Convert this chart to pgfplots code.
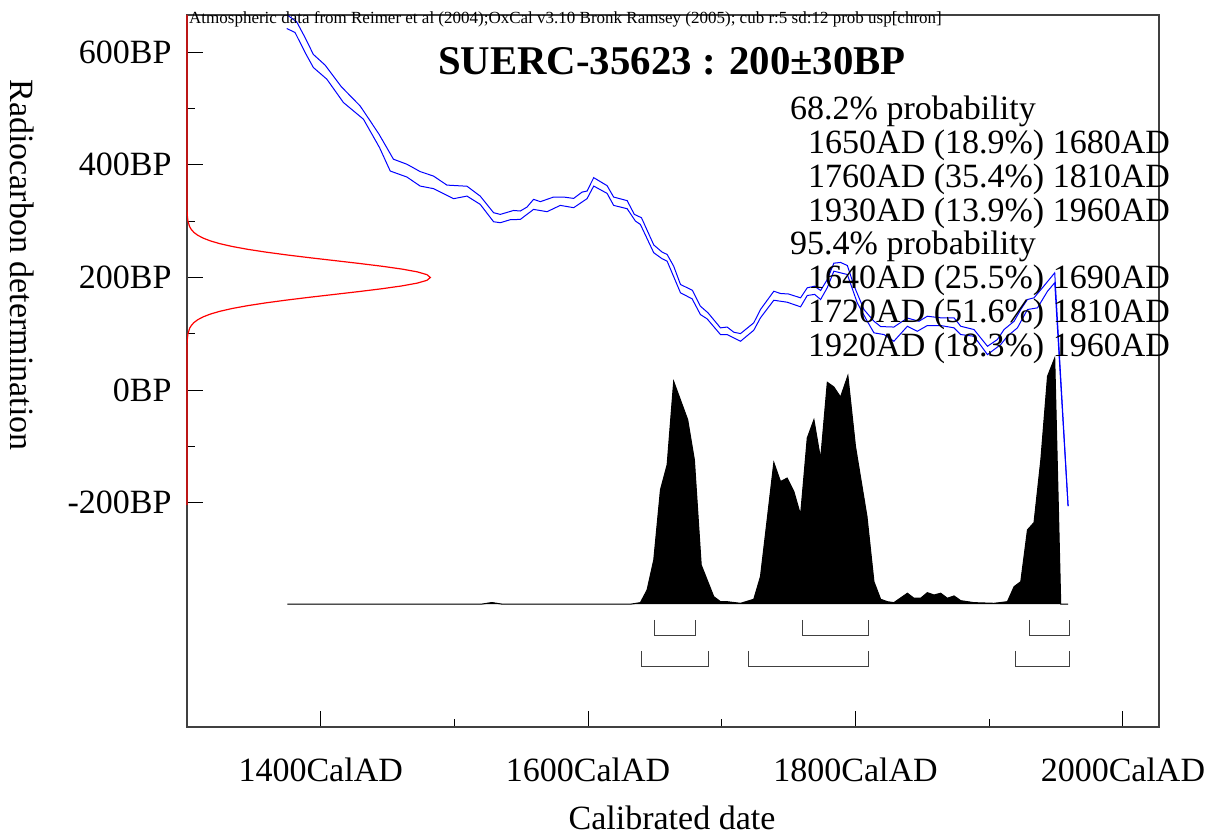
\documentclass[border=0pt]{standalone}
\usepackage{pgfplots}
\pgfplotsset{compat=1.18}
\usepackage{fontspec}
\setmainfont{Liberation Serif}
\begin{document}
\begin{tikzpicture}
\begin{axis}[
 at={(0,0)}, anchor=south west, scale only axis, width=972pt, height=712pt,
 xmin=1300, xmax=2027, ymin=-598, ymax=666,
 xtick={1400,1600,1800,2000}, xticklabels={1400CalAD,1600CalAD,1800CalAD,2000CalAD},
 minor xtick={1300,1500,1700,1900},
 ytick={-200,0,200,400,600}, yticklabels={-200BP,0BP,200BP,400BP,600BP},
 minor ytick={-100,100,300,500},
 tick align=inside, xtick pos=bottom, ytick pos=left,
 major tick length=16pt, minor tick length=8pt,
 every tick/.style={black, line width=1pt},
 every minor tick/.style={black, line width=1pt},
 axis line style={black!75, line width=1.2pt},
 ticklabel style={font=\fontsize{34}{40}\selectfont},
 xticklabel style={yshift=-27pt},
 yticklabel style={xshift=-12pt},
 clip=false,
]
% probability distribution
\addplot[fill=black, draw=black, line width=1pt] coordinates {
(1375,-380) (1520,-380) (1528,-377) (1536,-380) (1631.6,-380) (1639.1,-377.2) (1644.1,-354.7) (1649.1,-301.3) (1654.1,-176.9) (1659.1,-132.4) (1664,15.6) (1674.5,-52.5) (1679.5,-123.6) (1684.6,-310.2) (1694,-366.6) (1699,-375.5) (1704,-375.5) (1714,-378.4) (1723.9,-371.2) (1728.9,-331) (1733.9,-230.2) (1738.9,-128.4) (1743.9,-162.1) (1748.9,-156.1) (1753.9,-179.9) (1758.9,-221.3) (1763.9,-85) (1768.9,-52.5) (1773.9,-122.3) (1778.9,13.9) (1783.8,5.7) (1788.8,-12.1) (1794.3,25.8) (1800,-100) (1808.6,-224.4) (1813.8,-339.9) (1818.8,-371.2) (1823.8,-375.5) (1828.7,-377.2) (1838.8,-360.5) (1843.7,-369.4) (1848.7,-369.4) (1853.7,-359.5) (1858.7,-363.6) (1863.7,-360.5) (1868.7,-369.4) (1873.7,-365.3) (1878.7,-373.7) (1888.6,-377.2) (1903.6,-378.4) (1913.6,-375.5) (1918.6,-348.8) (1923.6,-339.9) (1928.6,-248) (1933.5,-235) (1938.6,-123.6) (1943.6,24.6) (1949,57.2) (1953.5,-380) (1959,-380)
};
% calibration curve
\addplot[blue, line width=1pt] coordinates {
(1375,666) (1382,654) (1388.3,626) (1394.5,596) (1403.3,577) (1415.3,539) (1429.5,504.5) (1437,478) (1443.7,454) (1454.4,410) (1464.5,401) (1474.4,388) (1484.4,380) (1494.4,364) (1509.4,362) (1519.3,344.5) (1529.3,315) (1534.3,312) (1544.3,319) (1549.3,318) (1554.3,325) (1559.2,338.7) (1564.3,334.6) (1574.2,342.8) (1581.7,342.8) (1589.2,340.4) (1595.5,351.6) (1599.2,353.4) (1604.2,377.2) (1614.2,363) (1619.1,342.8) (1629.2,336.4) (1634.6,312) (1639.9,306.1) (1649.1,257.8) (1655.4,245) (1659.1,240.9) (1664,220.1) (1669.1,187.6) (1678,177.2) (1684,149) (1689.7,137.2) (1699,110.6) (1704,112) (1709,102.8) (1714,100.4) (1723.9,119.5) (1728.9,143.1) (1738.9,175.6) (1743.9,171.6) (1749.9,170.7) (1758.9,163.9) (1763.9,181.7) (1769.4,184.5) (1773.9,176.9) (1778.9,196.4) (1783.8,225.4) (1788.8,226.7) (1793.9,221.3) (1798.8,185.8) (1806.3,143.1) (1813.8,122.3) (1818.8,112.9) (1828.7,112) (1838.8,128) (1847.5,122.3) (1853.7,131.2) (1863.7,128.4) (1873.7,128.4) (1878.7,113.4) (1888.6,107.6) (1898.7,77.9) (1906.1,89.8) (1911.1,107.6) (1918.6,122.3) (1923.6,143.1) (1928.6,160.9) (1933.5,163.9) (1939.8,181.7) (1949,208.3) (1959,-206)
};
\addplot[blue, line width=1pt] coordinates {
(1374.6,642) (1380.8,635) (1388.3,599.5) (1394.5,572.8) (1404.6,552) (1417,510.6) (1432,480.9) (1444,430.6) (1452,389) (1464.5,378.3) (1474.4,362.3) (1484.4,357.7) (1499.4,339.9) (1509.4,344.5) (1519.3,329.8) (1529.3,299) (1534.3,297.2) (1541.8,302.6) (1549.3,303.1) (1559.2,320.9) (1569.3,316.8) (1579.2,328) (1589.2,323.9) (1599.2,339.9) (1604.2,362.3) (1614.2,349.3) (1619.1,328) (1629.2,322.1) (1635.4,300.1) (1639.1,294.2) (1649.1,243.9) (1655.4,233.2) (1659.1,229) (1669.1,172.8) (1677.8,162.1) (1684,134.2) (1689,126.6) (1699,98.7) (1704,98.7) (1714,86.8) (1723.9,106.3) (1728.9,128.4) (1738.9,159.6) (1748.9,156.1) (1758.9,147.9) (1763.9,168) (1769.4,170) (1773.9,160.9) (1778.9,182) (1783.8,211.2) (1793.9,205.3) (1801.3,155) (1808.8,122.3) (1813.8,101.7) (1821.3,98.7) (1828.7,86.8) (1838.8,113.4) (1846.2,104.5) (1853.7,114.7) (1863.7,114.7) (1873.7,110.6) (1878.7,98.7) (1888.6,95.7) (1898.7,63.1) (1908.6,80.9) (1913.6,95.7) (1921.1,110.6) (1928.6,143.1) (1936.1,146.1) (1943.6,175.6) (1949,190.6) (1959,-206)
};
% radiocarbon measurement
\addplot[red, line width=1.2pt] coordinates {
(1300,666) (1300,330) (1300.06,320) (1300.22,310) (1300.7,300) (1302,290) (1303.3,285) (1305.2,280) (1308,275) (1312,270) (1317.4,265) (1324.6,260) (1333.9,255) (1345.4,250) (1359.1,245) (1374.8,240) (1392.1,235) (1410.4,230) (1428.6,225) (1445.7,220) (1460.6,215) (1472.2,210) (1479.5,205) (1482,200) (1479.5,195) (1472.2,190) (1460.6,185) (1445.7,180) (1428.6,175) (1410.4,170) (1392.1,165) (1374.8,160) (1359.1,155) (1345.4,150) (1333.9,145) (1324.6,140) (1317.4,135) (1312,130) (1308,125) (1305.2,120) (1303.3,115) (1302,110) (1300.7,100) (1300.22,90) (1300.06,80) (1300,70) (1300,-204)
};
% ranges
\addplot[black!75, line width=1pt] coordinates {(1650,-408) (1650,-435) (1680,-435) (1680,-408)};
\addplot[black!75, line width=1pt] coordinates {(1760,-408) (1760,-435) (1810,-435) (1810,-408)};
\addplot[black!75, line width=1pt] coordinates {(1930,-408) (1930,-435) (1960,-435) (1960,-408)};
\addplot[black!75, line width=1pt] coordinates {(1640,-463) (1640,-490) (1690,-490) (1690,-463)};
\addplot[black!75, line width=1pt] coordinates {(1720,-463) (1720,-490) (1810,-490) (1810,-463)};
\addplot[black!75, line width=1pt] coordinates {(1920,-463) (1920,-490) (1960,-490) (1960,-463)};
\end{axis}
\node[anchor=base west, font=\fontsize{17}{20}\selectfont, inner sep=0] at (2pt,703pt) {Atmospheric data from Reimer et al (2004);OxCal v3.10 Bronk Ramsey (2005); cub r:5 sd:12 prob usp[chron]};
\node[anchor=base, font=\fontsize{40.8}{48}\selectfont\bfseries, inner sep=0] at (485pt,652pt) {SUERC-35623 : 200±30BP};
\begin{scope}[every node/.style={anchor=base west, font=\fontsize{34}{40}\selectfont, inner sep=0}]
\node at (603pt,607.6pt) {68.2\% probability};
\node at (621pt,573.7pt) {1650AD (18.9\%) 1680AD};
\node at (621pt,539.8pt) {1760AD (35.4\%) 1810AD};
\node at (621pt,505.9pt) {1930AD (13.9\%) 1960AD};
\node at (603pt,472pt) {95.4\% probability};
\node at (621pt,438.1pt) {1640AD (25.5\%) 1690AD};
\node at (621pt,404.2pt) {1720AD (51.6\%) 1810AD};
\node at (621pt,370.3pt) {1920AD (18.3\%) 1960AD};
\end{scope}
\node[rotate=-90, font=\fontsize{34}{40}\selectfont, inner sep=0] at (-165pt,462pt) {Radiocarbon determination};
\node[font=\fontsize{34}{40}\selectfont, inner sep=0] at (485pt,-91pt) {Calibrated date};
\pgfresetboundingbox
\path[use as bounding box] (-187pt,-105pt) rectangle (1027pt,727pt);
\end{tikzpicture}
\end{document}
